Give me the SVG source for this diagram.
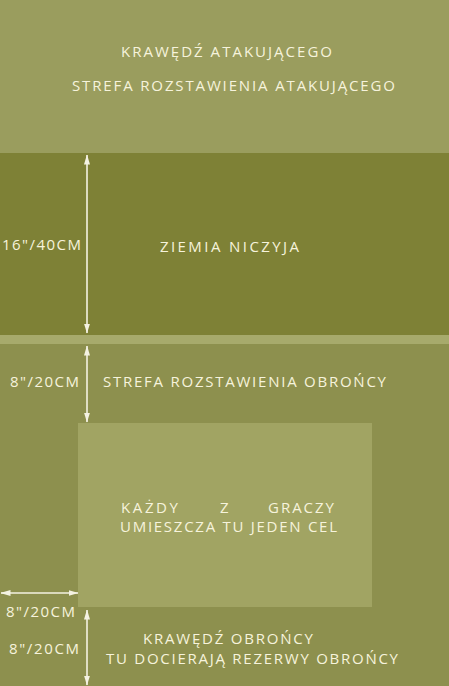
<svg xmlns="http://www.w3.org/2000/svg" width="449" height="686" viewBox="0 0 449 686">
<style>
.t{font-family:"Open Sans","Lato","Liberation Sans",sans-serif;font-size:15px;fill:#f6f3dc;}
.a{stroke:#f4f2e2;stroke-width:1.6;fill:none;}
</style>
<defs>
<marker id="ah" viewBox="0 0 10 6" refX="9.5" refY="3" markerWidth="10" markerHeight="6" markerUnits="userSpaceOnUse" orient="auto-start-reverse">
<path d="M0,0 L10,3 L0,6 Z" fill="#f4f2e2"/>
</marker>
</defs>
<g id="attacker-zone">
<rect x="0" y="0" width="449" height="153" fill="#9a9d5e"/>
<text class="t" x="121" y="57" textLength="211">KRAWĘDŹ ATAKUJĄCEGO</text>
<text class="t" x="72" y="91" textLength="323">STREFA ROZSTAWIENIA ATAKUJĄCEGO</text>
</g>
<g id="no-mans-land">
<rect x="0" y="153" width="449" height="182" fill="#7e8136"/>
<rect x="0" y="335" width="449" height="9" fill="#a7aa6c"/>
<text class="t" x="160" y="252" textLength="139">ZIEMIA NICZYJA</text>
</g>
<g id="defender-zone">
<rect x="0" y="344" width="449" height="342" fill="#8d904e"/>
<text class="t" x="103" y="387" textLength="283">STREFA ROZSTAWIENIA OBROŃCY</text>
</g>
<g id="objective-area">
<rect x="78" y="423" width="294" height="184" fill="#a1a463"/>
<text class="t" x="121" y="513" textLength="57">KAŻDY</text>
<text class="t" x="220" y="513">Z</text>
<text class="t" x="268" y="513" textLength="66">GRACZY</text>
<text class="t" x="120" y="532" textLength="217">UMIESZCZA TU JEDEN CEL</text>
</g>
<g id="defender-edge">
<text class="t" x="143" y="644" textLength="170">KRAWĘDŹ OBROŃCY</text>
<text class="t" x="106" y="664" textLength="292">TU DOCIERAJĄ REZERWY OBROŃCY</text>
</g>
<g id="labels">
<text class="t" x="2" y="250" textLength="79">16"/40CM</text>
<text class="t" x="10" y="387" textLength="69">8"/20CM</text>
<text class="t" x="6" y="617" textLength="69">8"/20CM</text>
<text class="t" x="9" y="654" textLength="70">8"/20CM</text>
</g>
<g id="connectors">
<line class="a" x1="87" y1="155" x2="87" y2="333" marker-start="url(#ah)" marker-end="url(#ah)"/>
<line class="a" x1="87" y1="346" x2="87" y2="422" marker-start="url(#ah)" marker-end="url(#ah)"/>
<line class="a" x1="1" y1="593" x2="78" y2="593" marker-start="url(#ah)" marker-end="url(#ah)"/>
<line class="a" x1="87" y1="610" x2="87" y2="685" marker-start="url(#ah)" marker-end="url(#ah)"/>
</g>
</svg>
